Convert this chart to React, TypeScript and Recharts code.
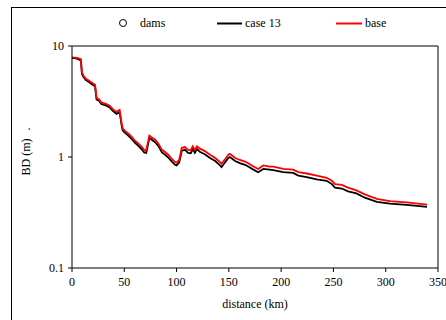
import React from "react";
import {
    LineChart,
    Line,
    XAxis,
    YAxis,
    ReferenceLine,
} from "recharts";

// distance downstream (km)
const distanceKm = [
    0, 5, 8.5, 9.5, 11, 13, 16, 18, 20, 22, 23.5, 26, 28, 33, 36, 39, 42.5,
    45.5, 47.5, 48.5, 51, 54, 57, 60, 63.5, 66.5, 69, 71, 74, 76, 79.5, 82.5,
    86, 89, 92, 95.5, 98.5, 100, 102.5, 105, 108, 111, 113.5, 115.5, 117.5,
    119.5, 122.5, 127, 132, 137, 141.5, 143, 146.5, 149.5, 151, 156, 160.5,
    165.5, 168.5, 173.5, 178, 183, 189, 192.5, 202, 211.5, 216.5, 224.5, 234,
    243.5, 248.5, 251.5, 258, 264, 272, 280, 291.5, 304, 320, 339.5,
];

// BD (m), base run
const baseBD = [
    7.9, 7.8, 7.6, 5.8, 5.4, 5.1, 4.9, 4.75, 4.6, 4.5, 3.4, 3.3, 3.1, 3.0, 2.9,
    2.7, 2.55, 2.65, 2.0, 1.8, 1.71, 1.62, 1.53, 1.41, 1.32, 1.24, 1.16, 1.15,
    1.56, 1.51, 1.43, 1.32, 1.16, 1.11, 1.05, 0.96, 0.9, 0.89, 0.94, 1.21,
    1.23, 1.16, 1.15, 1.25, 1.16, 1.25, 1.19, 1.13, 1.05, 0.98, 0.9, 0.87,
    0.96, 1.05, 1.07, 0.98, 0.94, 0.91, 0.88, 0.82, 0.78, 0.84, 0.82, 0.82,
    0.78, 0.77, 0.73, 0.71, 0.68, 0.65, 0.61, 0.57, 0.56, 0.53, 0.5, 0.46,
    0.42, 0.4, 0.39, 0.372,
];

// BD (m), case 13
const case13BD = [
    7.8, 7.7, 7.4, 5.6, 5.25, 4.95, 4.75, 4.6, 4.45, 4.35, 3.3, 3.2, 3.0, 2.9,
    2.8, 2.6, 2.45, 2.55, 1.92, 1.73, 1.64, 1.55, 1.46, 1.35, 1.26, 1.18, 1.1,
    1.09, 1.49, 1.44, 1.36, 1.26, 1.1, 1.05, 0.99, 0.91, 0.85, 0.84, 0.89,
    1.14, 1.16, 1.09, 1.08, 1.18, 1.09, 1.18, 1.11, 1.06, 0.98, 0.92, 0.84,
    0.81, 0.9, 0.98, 1.0, 0.92, 0.88, 0.85, 0.82, 0.77, 0.73, 0.78, 0.77,
    0.76, 0.73, 0.72, 0.68, 0.66, 0.63, 0.61, 0.57, 0.53, 0.52, 0.49, 0.47,
    0.43, 0.395, 0.38, 0.37, 0.355,
];

const xTicks = [0, 50, 100, 150, 200, 250, 300, 350];
const yTicks = [0.1, 1, 10];

const data = distanceKm.map((d, i) => ({
    distance: d,
    base: baseBD[i],
    case13: case13BD[i],
}));

const FONT = "Liberation Serif";
const tickStyle = { fontFamily: FONT, fontSize: 12, fill: "#000" };

function YLabel(props: any) {
    const { viewBox } = props;
    const x = (viewBox?.x ?? 0) + 26;
    const y = 157;
    return (
        <g fontFamily={FONT} fontSize={12} fill="#000">
            <text
                x={x}
                y={y}
                textAnchor="middle"
                dominantBaseline="central"
                transform={`rotate(-90 ${x} ${y})`}
            >
                BD (m)
            </text>
            <text
                x={x}
                y={y - 28}
                textAnchor="middle"
                dominantBaseline="central"
                transform={`rotate(-90 ${x} ${y - 28})`}
            >
                .
            </text>
        </g>
    );
}

function ChartLegend() {
    const item = { position: "absolute" as const, top: 16, fontFamily: FONT, fontSize: 12, lineHeight: "14px" };
    return (
        <>
            <svg style={{ position: "absolute", left: 118, top: 18 }} width={10} height={10}>
                <circle cx={5} cy={5} r={3.5} fill="none" stroke="#000" strokeWidth={1} />
            </svg>
            <span style={{ ...item, left: 140 }}>dams</span>
            <svg style={{ position: "absolute", left: 217, top: 22 }} width={25} height={3}>
                <line x1={0} y1={1.5} x2={25} y2={1.5} stroke="#000" strokeWidth={2} />
            </svg>
            <span style={{ ...item, left: 245 }}>case 13</span>
            <svg style={{ position: "absolute", left: 336, top: 22 }} width={26} height={3}>
                <line x1={0} y1={1.5} x2={26} y2={1.5} stroke="#ff0000" strokeWidth={2} />
            </svg>
            <span style={{ ...item, left: 365 }}>base</span>
        </>
    );
}

export default function App() {
    return (
        <div
            style={{
                position: "absolute",
                left: 0,
                top: 0,
                width: 446,
                height: 320,
                overflow: "hidden",
                background: "#fff",
                fontFamily: FONT,
            }}
        >
            <div
                style={{
                    position: "absolute",
                    left: 11,
                    top: 7,
                    width: 450,
                    height: 330,
                    border: "1px solid #000",
                }}
            />
            <ChartLegend />
            <div style={{ position: "absolute", left: 0, top: 0 }}>
                <LineChart
                    width={446}
                    height={320}
                    data={data}
                    margin={{ top: 46, right: 8, bottom: 0, left: 0 }}
                >
                    <XAxis
                        dataKey="distance"
                        type="number"
                        domain={[0, 350]}
                        ticks={xTicks}
                        interval={0}
                        height={52}
                        tickSize={4}
                        tickMargin={5}
                        stroke="#000"
                        tick={tickStyle}
                        label={{
                            value: "distance (km)",
                            position: "insideBottom",
                            offset: 12,
                            fontFamily: FONT,
                            fontSize: 12,
                            fill: "#000",
                        }}
                    />
                    <YAxis
                        scale="log"
                        domain={[0.1, 10]}
                        ticks={yTicks}
                        interval={0}
                        allowDataOverflow
                        width={72}
                        tickSize={4}
                        tickMargin={4}
                        stroke="#000"
                        tick={tickStyle}
                        label={<YLabel />}
                    />
                    <ReferenceLine y={10} stroke="#000" />
                    <ReferenceLine x={350} stroke="#000" />
                    <Line
                        dataKey="case13"
                        type="linear"
                        stroke="#000"
                        strokeWidth={1.8}
                        dot={false}
                        isAnimationActive={false}
                    />
                    <Line
                        dataKey="base"
                        type="linear"
                        stroke="#ff0000"
                        strokeWidth={1.8}
                        dot={false}
                        isAnimationActive={false}
                    />
                </LineChart>
            </div>
        </div>
    );
}
